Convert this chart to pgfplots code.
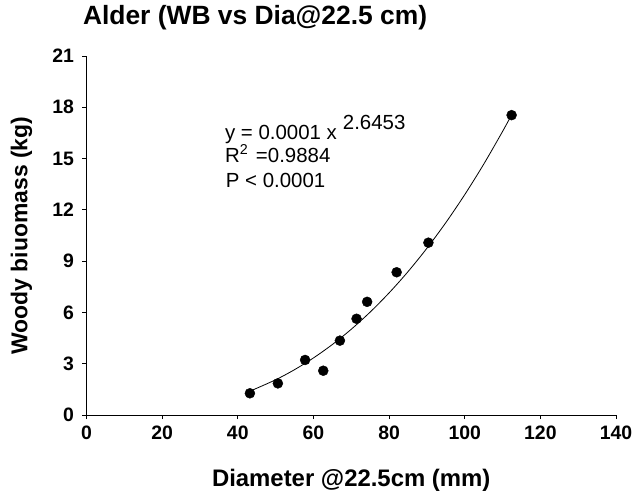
\documentclass[border=0pt]{standalone}
\usepackage{fontspec}
\setmainfont{Liberation Sans}
\usepackage{pgfplots}
\pgfplotsset{compat=1.18}

% measured woody biomass of alder stems
\pgfplotstableread{
dia  wb
43.2 1.27
50.6 1.85
57.8 3.22
62.6 2.59
67.0 4.35
71.4 5.63
74.2 6.62
82.0 8.35
90.4 10.08
112.4 17.54
}\alderdata

% fitted power curve, tabulated
\pgfplotstableread{
dia  wb
43   1.381
44   1.468
50   2.060
55   2.651
60   3.337
65   4.123
70   5.016
75   6.021
80   7.142
85   8.384
90   9.753
95   11.251
100  12.888
105  14.663
110  16.584
112.4 17.559
}\alderfit

\begin{document}
\begin{tikzpicture}
\begin{axis}[
  at={(0,0)}, anchor=south west,
  scale only axis,
  width=529.5bp, height=359bp,
  xmin=0, xmax=140, ymin=0, ymax=21,
  xtick={0,20,...,140},
  ytick={0,3,...,21},
  axis x line*=bottom, axis y line*=left,
  axis line style={-, line width=0.9pt, black},
  tick style={black, line width=0.8pt},
  tick align=outside,
  major tick length=4bp,
  /pgf/number format/assume math mode=true,
  ticklabel style={font=\bfseries\fontsize{19.5}{19.5}\selectfont},
  xticklabel style={yshift=-3bp},
  yticklabel style={xshift=-5bp},
  title={Alder (WB vs Dia@22.5 cm)},
  title style={at={(rel axis cs:0,1)}, anchor=base west, xshift=-7bp, yshift=26bp,
    font=\bfseries\fontsize{26.5}{26.5}\selectfont},
  xlabel={Diameter @22.5cm (mm)},
  xlabel style={at={(rel axis cs:0.5,0)}, anchor=base, yshift=-71bp,
    font=\bfseries\fontsize{24}{24}\selectfont},
  ylabel={Woody biuomass (kg)},
  ylabel style={at={(rel axis cs:0,0.5)}, anchor=center, yshift=65bp,
    font=\bfseries\fontsize{23}{23}\selectfont},
  clip=false,
]
\addplot[black, line width=0.8pt, smooth, no marks] table[x=dia, y=wb] {\alderfit};
\addplot[only marks, mark=*, mark size=5bp, black] table[x=dia, y=wb] {\alderdata};

\node[anchor=base west, inner sep=0pt, font=\fontsize{20.5}{20.5}\selectfont]
  at (axis cs:36.6,16.14) {y = 0.0001 x\hspace{6bp}\raisebox{10bp}{2.6453}};
\node[anchor=base west, inner sep=0pt, font=\fontsize{20.5}{20.5}\selectfont]
  at (axis cs:36.6,14.78) {R\textsuperscript{2}\hspace{2bp} =0.9884};
\node[anchor=base west, inner sep=0pt, font=\fontsize{20.5}{20.5}\selectfont]
  at (axis cs:36.8,13.30) {P < 0.0001};
\end{axis}
\pgfresetboundingbox
\useasboundingbox (-86.5bp,-80bp) rectangle (548.5bp,415bp);
\end{tikzpicture}
\end{document}
